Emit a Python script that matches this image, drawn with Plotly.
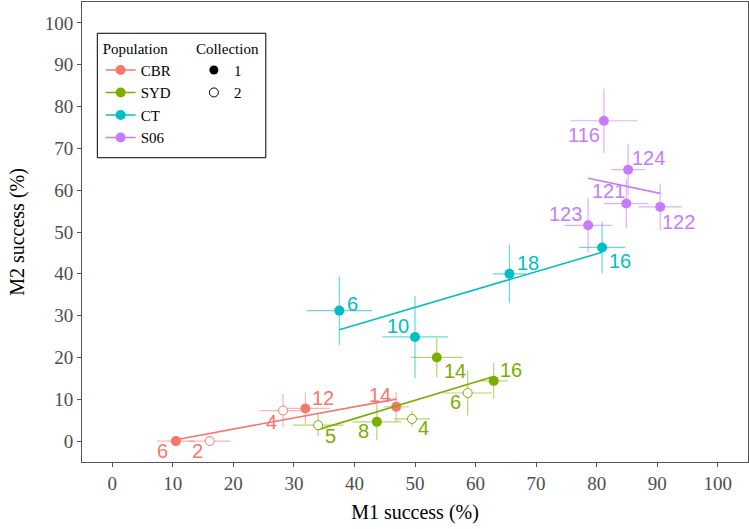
import numpy as np
import plotly.graph_objects as go

# ---------------- data ----------------
populations = ["CBR", "SYD", "CT", "S06"]
colors = {"CBR": "#F8766D", "SYD": "#7CAE00", "CT": "#00BFC4", "S06": "#C77CFF"}
bar_colors = {"CBR": "rgba(248,118,109,0.55)", "SYD": "rgba(124,174,0,0.55)",
              "CT": "rgba(0,191,196,0.6)", "S06": "rgba(199,124,255,0.6)"}

CBR_id = ["6", "2", "4", "12", "14"]
CBR_m1 = [10.5, 16.1, 28.2, 31.9, 46.9]
CBR_m2 = [0.0, 0.0, 7.3, 7.8, 8.2]
CBR_m1_err = [3.1, 3.4, 3.8, 4.0, 2.1]
CBR_m2_err = [0.0, 0.0, 4.0, 3.8, 3.6]
CBR_coll = [1, 2, 2, 1, 1]

SYD_id = ["5", "8", "4", "14", "6", "16"]
SYD_m1 = [34.0, 43.7, 49.5, 53.6, 58.7, 63.0]
SYD_m2 = [3.8, 4.6, 5.3, 20.0, 11.5, 14.4]
SYD_m1_err = [4.2, 4.0, 3.0, 4.3, 4.0, 2.3]
SYD_m2_err = [2.6, 4.4, 1.9, 4.7, 5.4, 4.3]
SYD_coll = [2, 1, 2, 1, 2, 1]

CT_id = ["6", "10", "18", "16"]
CT_m1 = [37.5, 50.0, 65.6, 80.9]
CT_m2 = [31.2, 24.9, 40.0, 46.3]
CT_m1_err = [5.4, 5.4, 2.7, 3.8]
CT_m2_err = [8.2, 9.8, 7.0, 6.2]
CT_coll = [1, 1, 1, 1]

S06_id = ["116", "124", "121", "122", "123"]
S06_m1 = [81.2, 85.2, 84.9, 90.5, 78.6]
S06_m2 = [76.6, 64.9, 56.8, 56.0, 51.6]
S06_m1_err = [5.5, 2.8, 3.7, 3.6, 3.9]
S06_m2_err = [7.7, 6.2, 5.9, 5.6, 6.5]
S06_coll = [1, 1, 1, 1, 1]

collections = ["1", "2"]
x_ticks = list(range(0, 101, 10))
y_ticks = list(range(0, 101, 10))

# label offsets in pixels (dx right, dy down) -- layout only
label_offsets = {
    "CBR": [(-13, 10), (-12, 10), (-12, 11), (18, -10), (-16, -12)],
    "SYD": [(12, 11), (-13, 9), (12, 9), (18, 14), (-12, 9), (17, -11)],
    "CT": [(13, -7), (-17, -11), (19, -11), (18, 14)],
    "S06": [(-20, 14), (20, -12), (-18, -13), (18, 15), (-23, -11)],
}

groups = {
    "CBR": (CBR_id, CBR_m1, CBR_m2, CBR_m1_err, CBR_m2_err, CBR_coll),
    "SYD": (SYD_id, SYD_m1, SYD_m2, SYD_m1_err, SYD_m2_err, SYD_coll),
    "CT": (CT_id, CT_m1, CT_m2, CT_m1_err, CT_m2_err, CT_coll),
    "S06": (S06_id, S06_m1, S06_m2, S06_m1_err, S06_m2_err, S06_coll),
}

SERIF = "Liberation Serif, Times New Roman, serif"
SANS = "Liberation Sans, Arial, sans-serif"

fig = go.Figure()
annotations = []

for pop in populations:
    ids, m1, m2, e1, e2, coll = groups[pop]
    col = colors[pop]
    bcol = bar_colors[pop]
    # regression line (lm fit)
    xs = np.array(m1)
    ys = np.array(m2)
    b, a = np.polyfit(xs, ys, 1)
    xl = np.array([xs.min(), xs.max()])
    fig.add_trace(go.Scatter(x=xl, y=a + b * xl, mode="lines",
                             line=dict(color=col, width=1.6),
                             showlegend=False, hoverinfo="skip"))
    for c in (1, 2):
        idx = [i for i, v in enumerate(coll) if v == c]
        if not idx:
            continue
        fig.add_trace(go.Scatter(
            x=[m1[i] for i in idx], y=[m2[i] for i in idx],
            mode="markers",
            marker=dict(color=col if c == 1 else "white", size=10 if c == 1 else 9,
                        symbol="circle",
                        line=dict(color=col, width=0 if c == 1 else 1)),
            error_x=dict(type="data", array=[e1[i] for i in idx], color=bcol,
                         thickness=1.2, width=0),
            error_y=dict(type="data", array=[e2[i] for i in idx], color=bcol,
                         thickness=1.2, width=0),
            showlegend=False, hoverinfo="skip"))
    for i, lab in enumerate(ids):
        dx, dy = label_offsets[pop][i]
        annotations.append(dict(x=m1[i], y=m2[i], text=lab, showarrow=False,
                                xshift=dx, yshift=-dy,
                                font=dict(family=SANS, size=20, color=col)))

# legend entries
for pop in populations:
    fig.add_trace(go.Scatter(x=[None], y=[None], mode="lines+markers", name=pop,
                             line=dict(color=colors[pop], width=1.6),
                             marker=dict(color=colors[pop], size=10),
                             legend="legend"))
for c in collections:
    fig.add_trace(go.Scatter(x=[None], y=[None], mode="markers", name=c,
                             marker=dict(color="black" if c == "1" else "white", size=9,
                                         line=dict(color="black", width=0 if c == "1" else 1)),
                             legend="legend2"))

axis_common = dict(showgrid=False, zeroline=False, showline=True, mirror=True,
                   linecolor="#555555", linewidth=1, ticks="outside", ticklen=4,
                   tickcolor="#555555", range=[-5, 105], automargin=False,
                   tickfont=dict(family=SERIF, size=19, color="#4D4D4D"))

fig.update_layout(
    width=749, height=529,
    margin=dict(l=82, r=1, t=2, b=67),
    paper_bgcolor="white", plot_bgcolor="white",
    xaxis=dict(**axis_common, tickvals=x_ticks,
               title=dict(text="M1 success (%)", font=dict(family=SERIF, size=20, color="black"),
                          standoff=12)),
    yaxis=dict(**axis_common, tickvals=y_ticks,
               title=dict(text="M2 success (%)", font=dict(family=SERIF, size=20, color="black"),
                          standoff=14)),
    annotations=annotations,
    legend=dict(x=0.028, y=0.93, xanchor="left", yanchor="top",
                bgcolor="rgba(0,0,0,0)", borderwidth=0,
                title=dict(text="Population", font=dict(family=SERIF, size=15, color="black")),
                font=dict(family=SERIF, size=15, color="black"), tracegroupgap=0),
    legend2=dict(x=0.168, y=0.93, xanchor="left", yanchor="top",
                 bgcolor="rgba(0,0,0,0)", borderwidth=0,
                 title=dict(text="Collection", font=dict(family=SERIF, size=15, color="black")),
                 font=dict(family=SERIF, size=15, color="black"), tracegroupgap=0),
    shapes=[dict(type="rect", xref="paper", yref="paper", x0=0.023, x1=0.276,
                 y0=0.6615, y1=0.932, line=dict(color="black", width=1))],
)

fig.write_html("out.html", config={"displayModeBar": False},
               post_script="document.body.style.margin='0';")
